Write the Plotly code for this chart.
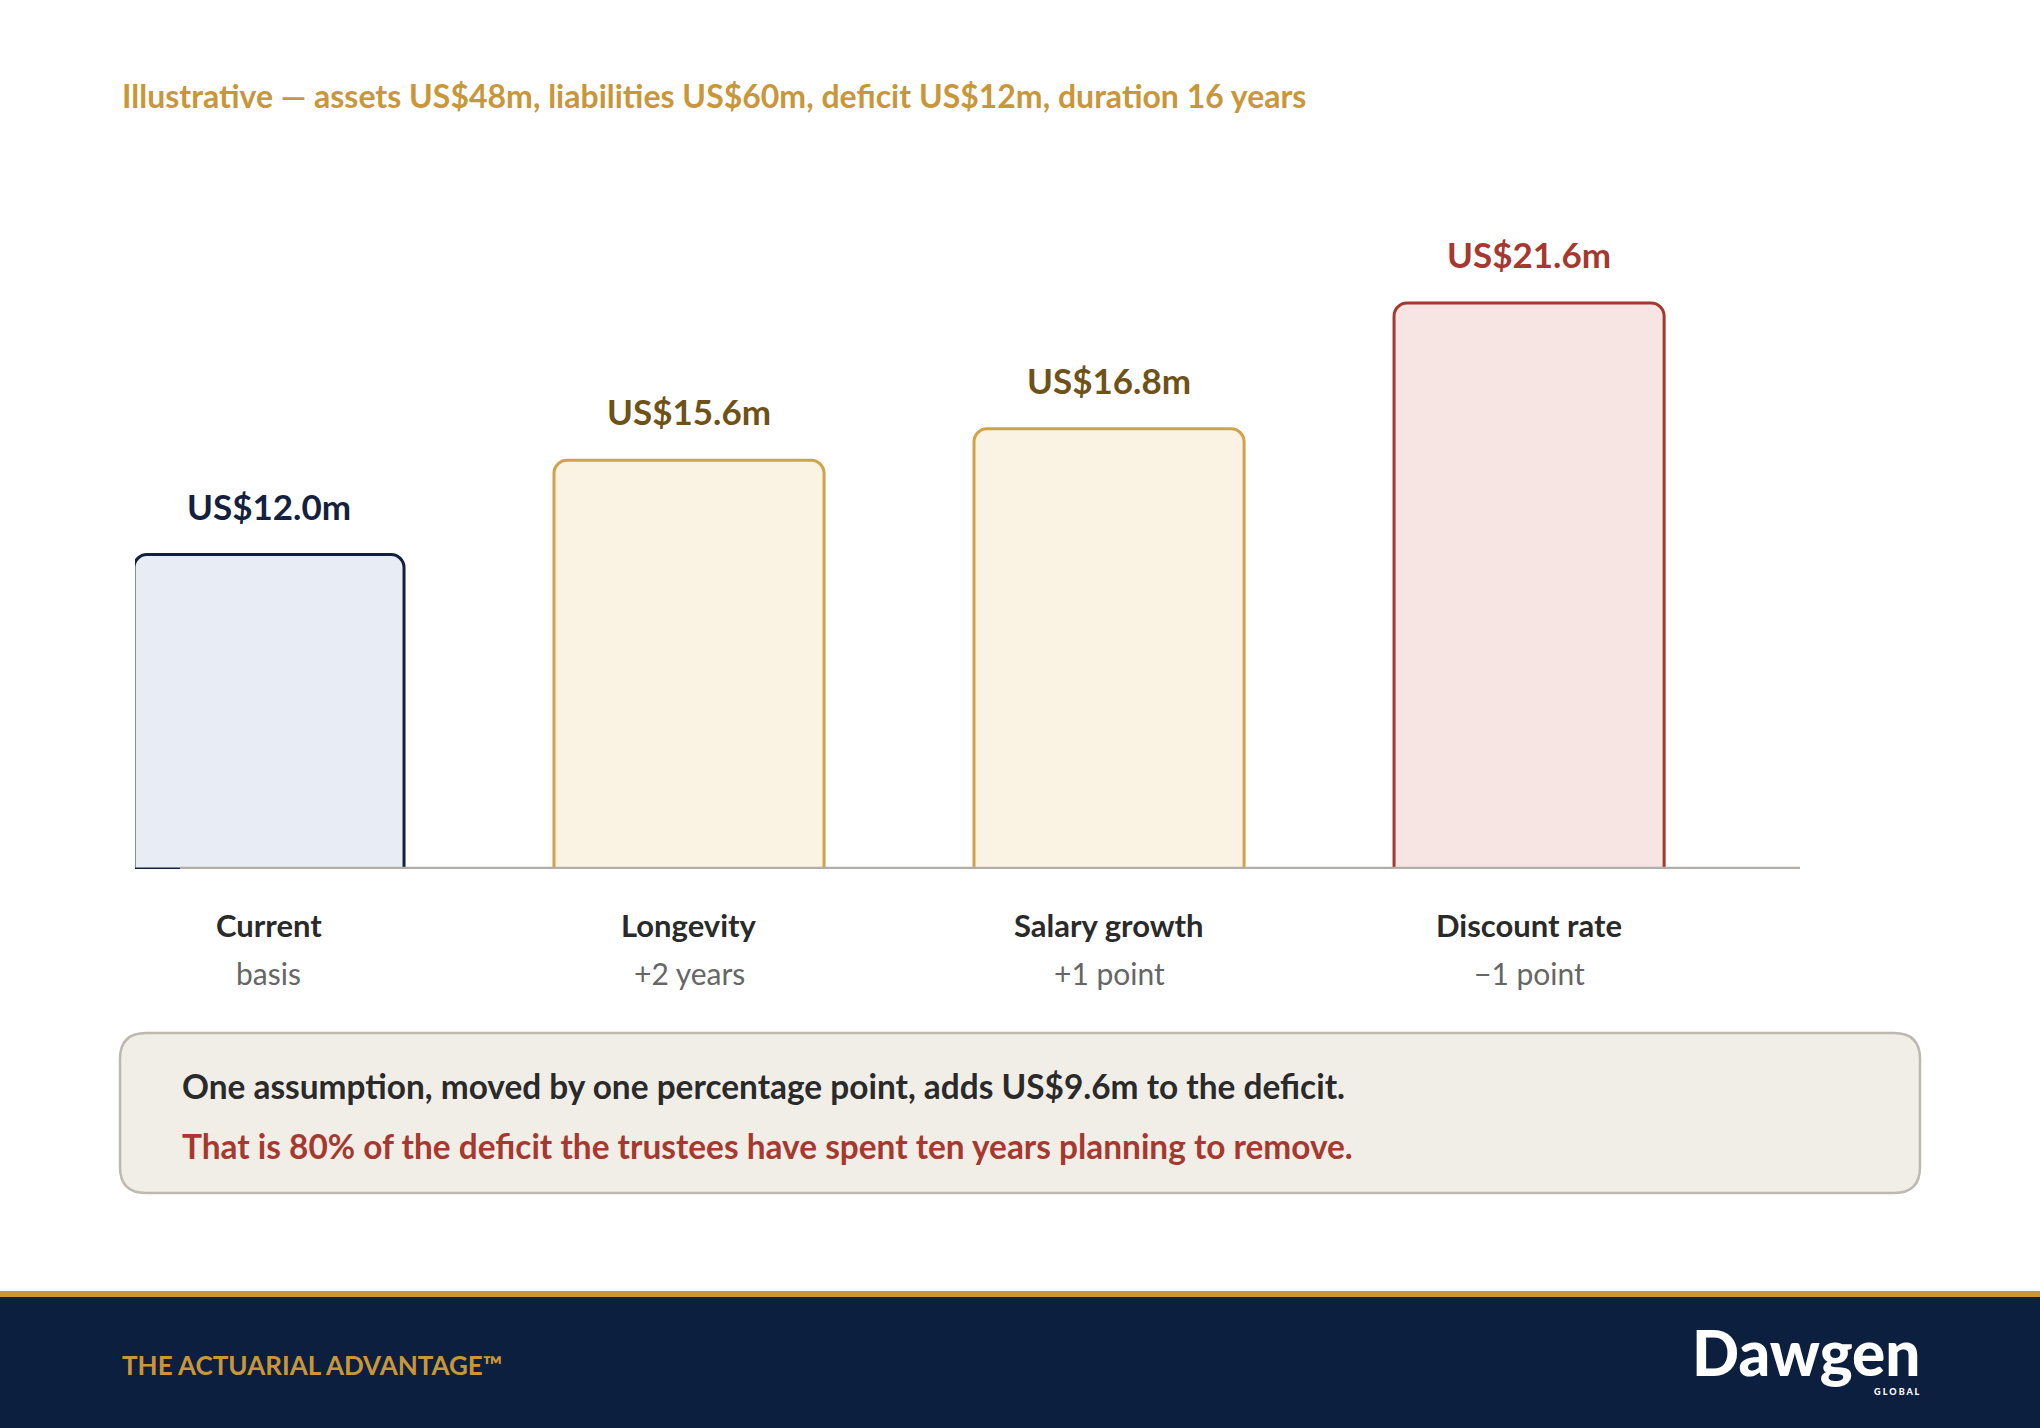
import plotly.graph_objects as go

# scenario data (US$m deficit)
categories = ["Current", "Longevity", "Salary growth", "Discount rate"]
subtitles = ["basis", "+2 years", "+1 point", "\u22121 point"]
deficit = [12.0, 15.6, 16.8, 21.6]

fill_cols = ["#E8EDF5", "#FAF2E3", "#FAF2E3", "#F6E5E3"]
line_cols = ["#13213F", "#D2A24A", "#D2A24A", "#A6392F"]
label_cols = ["#13213F", "#6E5217", "#6E5217", "#A6392F"]

W, H = 2040, 1428
FONT = "Lato"
GOLD = "#C9973A"
NAVY = "#0D1F3F"

fig = go.Figure()

fig.add_trace(go.Bar(
    x=categories, y=deficit,
    marker=dict(color=fill_cols, line=dict(color=line_cols, width=3), cornerradius=13),
    hoverinfo="skip", showlegend=False,
))

annotations = []
# value labels above bars
for c, v, col in zip(categories, deficit, label_cols):
    annotations.append(dict(
        x=c, y=v, xref="x", yref="y", text="<b>US$%.1fm</b>" % v, showarrow=False,
        yshift=49, yanchor="middle", font=dict(family=FONT, size=35, color=col)))

# category labels under the axis
for c, s in zip(categories, subtitles):
    annotations.append(dict(
        x=c, y=0, xref="x", yref="y", text="<b>%s</b>" % c, showarrow=False,
        yshift=-56, yanchor="middle", font=dict(family=FONT, size=31, color="#2A2A2A")))
    annotations.append(dict(
        x=c, y=0, xref="x", yref="y", text=s, showarrow=False,
        yshift=-104, yanchor="middle", font=dict(family=FONT, size=30, color="#666666")))

# title
annotations.append(dict(
    x=120 / W, y=1 - 96 / H, xref="paper", yref="paper", xanchor="left", yanchor="middle",
    text="<b>Illustrative \u2014 assets US$48m, liabilities US$60m, deficit US$12m, duration 16 years</b>",
    showarrow=False, font=dict(family=FONT, size=32, color=GOLD)))

# callout box text
annotations.append(dict(
    x=180 / W, y=1 - 1086 / H, xref="paper", yref="paper", xanchor="left", yanchor="middle",
    text="<b>One assumption, moved by one percentage point, adds US$9.6m to the deficit.</b>",
    showarrow=False, font=dict(family=FONT, size=33.4, color="#2A2A2A")))
annotations.append(dict(
    x=180 / W, y=1 - 1146 / H, xref="paper", yref="paper", xanchor="left", yanchor="middle",
    text="<b>That is 80% of the deficit the trustees have spent ten years planning to remove.</b>",
    showarrow=False, font=dict(family=FONT, size=33.4, color="#A6392F")))

# footer text + logo
annotations.append(dict(
    x=120 / W, y=1 - 1365 / H, xref="paper", yref="paper", xanchor="left", yanchor="middle",
    text="<b>THE ACTUARIAL ADVANTAGE\u2122</b>", showarrow=False,
    font=dict(family=FONT, size=26, color=GOLD)))
annotations.append(dict(
    x=1922 / W, y=1 - 1352 / H, xref="paper", yref="paper", xanchor="right", yanchor="middle",
    text="Dawgen", showarrow=False,
    font=dict(family=FONT, size=62, color="white", weight=900)))
annotations.append(dict(
    x=1922 / W, y=1 - 1391 / H, xref="paper", yref="paper", xanchor="right", yanchor="middle",
    text="G L O B A L", showarrow=False,
    font=dict(family=FONT, size=9, color="white", weight=900)))

# rounded callout box path (paper coords)
bx0, bx1 = 120 / W, 1920 / W
by0, by1 = 1 - 1193 / H, 1 - 1033 / H
rx, ry = 26 / W, 26 / H
box_path = (
    f"M {bx0 + rx},{by0} L {bx1 - rx},{by0} Q {bx1},{by0} {bx1},{by0 + ry} "
    f"L {bx1},{by1 - ry} Q {bx1},{by1} {bx1 - rx},{by1} "
    f"L {bx0 + rx},{by1} Q {bx0},{by1} {bx0},{by1 - ry} "
    f"L {bx0},{by0 + ry} Q {bx0},{by0} {bx0 + rx},{by0} Z"
)

shapes = [
    # baseline
    dict(type="line", xref="paper", yref="y", x0=180 / W, x1=1800 / W, y0=0, y1=0,
         line=dict(color="#B3AFA7", width=4.5), layer="above"),
    dict(type="path", xref="paper", yref="paper", path=box_path,
         fillcolor="#F1EEE8", line=dict(color="#BDB9B0", width=2.5), layer="below"),
    # footer
    dict(type="rect", xref="paper", yref="paper", x0=0, x1=1, y0=0, y1=1 - 1297 / H,
         fillcolor=NAVY, line=dict(width=0), layer="below"),
    dict(type="rect", xref="paper", yref="paper", x0=0, x1=1, y0=1 - 1297 / H, y1=1 - 1291 / H,
         fillcolor=GOLD, line=dict(width=0), layer="below"),
]

fig.update_layout(
    width=W, height=H,
    margin=dict(l=0, r=0, t=0, b=0),
    paper_bgcolor="white", plot_bgcolor="rgba(0,0,0,0)",
    bargap=0.357,
    xaxis=dict(domain=[135 / W, 1800 / W], range=[-0.319, 3.645], showticklabels=False,
               showgrid=False, zeroline=False, showline=False, fixedrange=True),
    yaxis=dict(domain=[1 - 869 / H, 1 - 214 / H], range=[0, 25], showticklabels=False,
               showgrid=False, zeroline=False, showline=False, fixedrange=True),
    annotations=annotations,
    shapes=shapes,
    font=dict(family=FONT),
)

fig.write_html("out.html", config={"displayModeBar": False},
               post_script="document.body.style.margin='0';")
